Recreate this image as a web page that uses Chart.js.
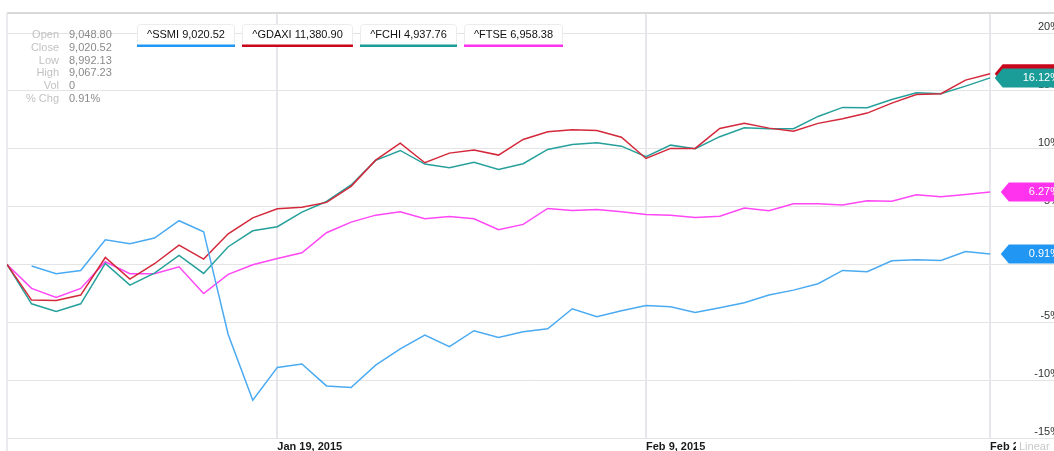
<!DOCTYPE html>
<html>
<head>
<meta charset="utf-8">
<script src="https://cdn.jsdelivr.net/npm/chart.js@4.4.1/dist/chart.umd.min.js"></script>
<style>
  html, body { margin: 0; padding: 0; background: #fff; }
  #wrap { position: relative; width: 1054px; height: 451px; }
</style>
</head>
<body>
<div id="wrap"><canvas id="chart"></canvas></div>
<script>
// Trading days shown on the x axis
const dates = [
  'Jan 2, 2015', 'Jan 5, 2015', 'Jan 6, 2015', 'Jan 7, 2015', 'Jan 8, 2015', 'Jan 9, 2015',
  'Jan 12, 2015', 'Jan 13, 2015', 'Jan 14, 2015', 'Jan 15, 2015', 'Jan 16, 2015',
  'Jan 19, 2015', 'Jan 20, 2015', 'Jan 21, 2015', 'Jan 22, 2015', 'Jan 23, 2015',
  'Jan 26, 2015', 'Jan 27, 2015', 'Jan 28, 2015', 'Jan 29, 2015', 'Jan 30, 2015',
  'Feb 2, 2015', 'Feb 3, 2015', 'Feb 4, 2015', 'Feb 5, 2015', 'Feb 6, 2015',
  'Feb 9, 2015', 'Feb 10, 2015', 'Feb 11, 2015', 'Feb 12, 2015', 'Feb 13, 2015',
  'Feb 16, 2015', 'Feb 17, 2015', 'Feb 18, 2015', 'Feb 19, 2015', 'Feb 20, 2015',
  'Feb 23, 2015', 'Feb 24, 2015', 'Feb 25, 2015', 'Feb 26, 2015', 'Feb 27, 2015'
];

const seriesNames = ['^SSMI', '^GDAXI', '^FCHI', '^FTSE'];
const lastCloses = ['9,020.52', '11,380.90', '4,937.76', '6,958.38'];

// % change since start
const ssmi = [null, -0.14, -0.81, -0.52, 2.13, 1.79, 2.28, 3.78, 2.83, -6.05, -11.73,
  -8.9, -8.61, -10.5, -10.63, -8.7, -7.29, -6.11, -7.11, -5.73, -6.31,
  -5.82, -5.56, -3.83, -4.52, -4.0, -3.54, -3.66, -4.15, -3.74, -3.31,
  -2.65, -2.22, -1.67, -0.52, -0.63, 0.32, 0.40, 0.35, 1.12, 0.91];
const gdaxi = [0, -3.08, -3.11, -2.65, 0.6, -1.27, 0.06, 1.67, 0.46, 2.65, 4.03,
  4.81, 4.95, 5.36, 6.75, 9.01, 10.48, 8.79, 9.62, 9.88, 9.45,
  10.8, 11.47, 11.64, 11.58, 11.0, 9.16, 10.03, 10.03, 11.75, 12.19,
  11.78, 11.52, 12.19, 12.59, 13.08, 13.94, 14.69, 14.75, 15.93, 16.48];
const fchi = [0, -3.4, -4.06, -3.4, 0.09, -1.79, -0.75, 0.78, -0.78, 1.53, 2.91,
  3.26, 4.52, 5.44, 6.87, 8.99, 9.85, 8.67, 8.36, 8.82, 8.21,
  8.7, 9.94, 10.37, 10.52, 10.22, 9.31, 10.31, 10.0, 11.04, 11.81,
  11.73, 11.73, 12.79, 13.57, 13.54, 14.26, 14.84, 14.75, 15.41, 16.12];
const ftse = [0, -2.07, -2.85, -2.07, 0.23, -0.8, -0.8, -0.2, -2.51, -0.86, -0.03,
  0.52, 1.01, 2.74, 3.66, 4.26, 4.55, 3.95, 4.15, 3.95, 3.0,
  3.46, 4.84, 4.67, 4.75, 4.55, 4.32, 4.26, 4.06, 4.17, 4.87,
  4.64, 5.25, 5.25, 5.13, 5.5, 5.47, 6.02, 5.85, 6.05, 6.27];

const yTicks = [-15, -10, -5, 0, 5, 10, 15, 20];
const xTickDates = ['Jan 19, 2015', 'Feb 9, 2015', 'Feb 27, 2015'];

const infoLabels = ['Open', 'Close', 'Low', 'High', 'Vol', '% Chg'];
const infoValues = ['9,048.80', '9,020.52', '8,992.13', '9,067.23', '0', '0.91%'];

const FONT = '"Liberation Sans", Arial, sans-serif';
const lineColors = ['#4aaaf2', '#d3283a', '#26a09b', '#ff47f5'];
const tagColors = ['#2196f3', '#c8061c', '#1a9c98', '#ff33ee'];
const allSeries = [ssmi, gdaxi, fchi, ftse];

function toPoints(values) {
  return values.map((v, i) => ({ x: i, y: v }));
}

// Extra drawing: frame, info block, legend chips, value tags
const decorations = {
  id: 'decorations',
  beforeDatasetsDraw(chart) {
    const { ctx, chartArea: a } = chart;
    ctx.save();
    ctx.strokeStyle = '#d9d9d9';
    ctx.lineWidth = 2;
    ctx.beginPath();
    ctx.moveTo(a.left, a.top);
    ctx.lineTo(a.right, a.top);
    ctx.stroke();
    ctx.strokeStyle = '#e4e4ea';
    ctx.lineWidth = 1.5;
    ctx.beginPath();
    ctx.moveTo(a.left, a.top);
    ctx.lineTo(a.left, chart.height);
    ctx.stroke();

    ctx.font = '11px ' + FONT;
    ctx.textBaseline = 'middle';
    infoLabels.forEach((label, i) => {
      const y = 34.7 + i * 12.9;
      ctx.fillStyle = '#c2c2c2';
      ctx.textAlign = 'right';
      ctx.fillText(label, 59, y);
      ctx.fillStyle = '#8a8a8a';
      ctx.textAlign = 'left';
      ctx.fillText(infoValues[i], 69, y);
    });
    ctx.restore();
  },
  afterDraw(chart) {
    const { ctx } = chart;
    ctx.save();
    ctx.font = '11px ' + FONT;
    ctx.textBaseline = 'middle';

    // legend chips
    let bx = 137;
    seriesNames.forEach((name, k) => {
      const txt = name + ' ' + lastCloses[k];
      const w = Math.round(ctx.measureText(txt).width + 19);
      ctx.fillStyle = '#fff';
      ctx.strokeStyle = '#ececec';
      ctx.lineWidth = 1;
      ctx.beginPath();
      ctx.roundRect(bx + 0.5, 24.5, w, 22, 3);
      ctx.fill();
      ctx.stroke();
      ctx.fillStyle = tagColors[k];
      ctx.fillRect(bx, 44.5, w + 1, 2.5);
      ctx.fillStyle = '#111';
      ctx.textAlign = 'center';
      ctx.fillText(txt, bx + w / 2 + 0.5, 34.5);
      bx += w + 8;
    });

    // last-value tags on the right
    const yScale = chart.scales.y;
    allSeries.forEach((vals, k) => {
      const last = vals[vals.length - 1];
      const cy = yScale.getPixelForValue(last);
      const txt = last.toFixed(2) + '%';
      const tw = ctx.measureText(txt).width;
      const tx = 1060 - tw;
      const tip = tx - 28;
      ctx.fillStyle = tagColors[k];
      ctx.beginPath();
      ctx.moveTo(tip, cy);
      ctx.lineTo(tip + 8, cy - 9.5);
      ctx.lineTo(chart.width + 10, cy - 9.5);
      ctx.lineTo(chart.width + 10, cy + 9.5);
      ctx.lineTo(tip + 8, cy + 9.5);
      ctx.closePath();
      ctx.fill();
      ctx.fillStyle = '#fff';
      ctx.textAlign = 'left';
      ctx.fillText(txt, tx, cy + 0.5);
    });

    // scale type label, covering the end of the last date
    ctx.fillStyle = '#fff';
    ctx.fillRect(1016, 440, 40, 12);
    ctx.fillStyle = '#c8c8c8';
    ctx.textAlign = 'left';
    ctx.fillText('Linear', 1019, 446.5);
    ctx.restore();
  }
};

new Chart(document.getElementById('chart'), {
  type: 'line',
  data: {
    datasets: allSeries.map((vals, k) => ({
      label: seriesNames[k],
      data: toPoints(vals),
      borderColor: lineColors[k],
      borderWidth: 1.5,
      pointRadius: 0,
      tension: 0,
      fill: false
    }))
  },
  options: {
    responsive: true,
    maintainAspectRatio: false,
    animation: false,
    layout: { padding: { left: 7, top: 13, right: 0, bottom: 0 } },
    plugins: {
      legend: { display: false },
      tooltip: { enabled: false }
    },
    scales: {
      x: {
        type: 'linear',
        min: 0,
        max: 42.6,
        afterBuildTicks: scale => {
          scale.ticks = xTickDates.map(d => ({ value: dates.indexOf(d) }));
        },
        afterFit: scale => {
          scale.height = 13;
          scale.paddingLeft = 0;
          scale.paddingRight = 0;
        },
        grid: { color: '#e6e6ec', lineWidth: 2, drawTicks: false },
        border: { display: false },
        ticks: {
          align: 'start',
          padding: 2,
          autoSkip: false,
          maxRotation: 0,
          color: '#1a1a1a',
          font: { family: FONT, size: 11, weight: 'bold' },
          callback: v => dates[v]
        }
      },
      y: {
        position: 'right',
        min: -15,
        max: 21.73,
        afterBuildTicks: scale => {
          scale.ticks = yTicks.map(v => ({ value: v }));
        },
        afterFit: scale => {
          scale.width = 0;
          scale.paddingTop = 0;
          scale.paddingBottom = 0;
        },
        grid: { color: '#e4e4e4', lineWidth: 1, drawTicks: false },
        border: { display: false },
        ticks: {
          mirror: true,
          padding: 6,
          labelOffset: -6,
          color: '#333',
          font: { family: FONT, size: 11 },
          callback: v => v + '%'
        }
      }
    }
  },
  plugins: [decorations]
});
</script>
</body>
</html>
